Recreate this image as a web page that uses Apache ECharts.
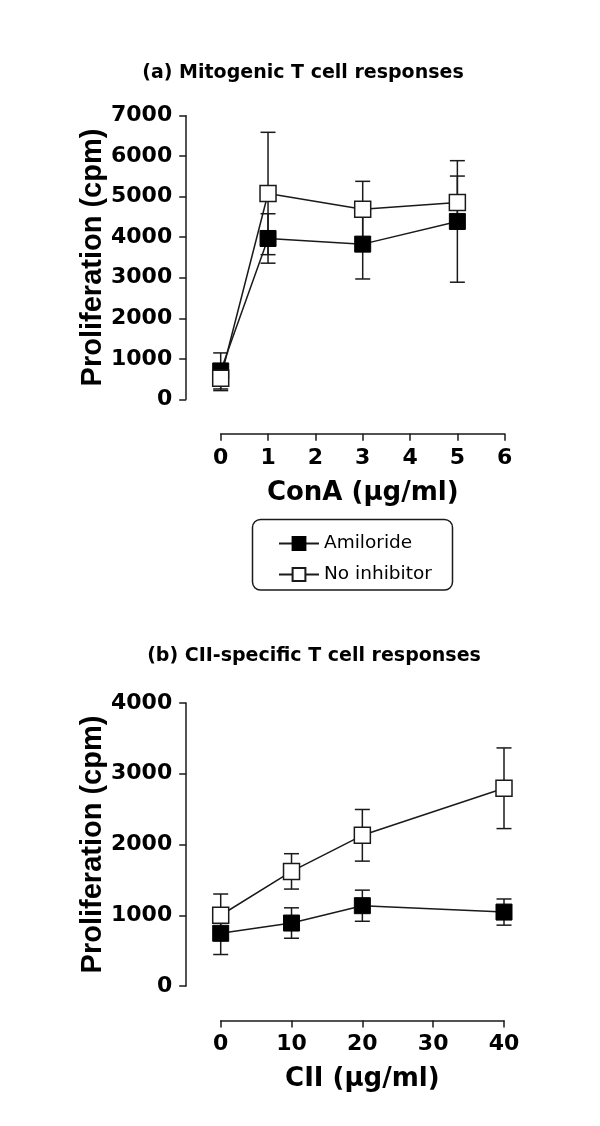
<!DOCTYPE html>
<html>
<head>
<meta charset="utf-8">
<script src="https://cdn.jsdelivr.net/npm/echarts@6/dist/echarts.min.js"></script>
<style>
  html, body { margin: 0; padding: 0; background: #fff; }
  #chart { width: 600px; height: 1126px; }
</style>
</head>
<body>
<div id="chart"></div>
<script>
// ---- Data ----
const seriesNames = ['Amiloride', 'No inhibitor'];

// Panel (a): ConA (µg/ml)
const conA = [0, 1, 3, 5];
const amilorideA = [700, 3970, 3830, 4390];
const amilorideAErr = [445, 610, 860, 1500];
const noInhibitorA = [520, 5080, 4690, 4860];
const noInhibitorAErr = [305, 1510, 690, 650];
const xTicksA = { min: 0, max: 6, interval: 1 };
const yTicksA = { min: 0, max: 7000, interval: 1000 };

// Panel (b): CII (µg/ml)
const cii = [0, 10, 20, 40];
const amilorideB = [745, 890, 1135, 1045];
const amilorideBErr = [300, 215, 220, 185];
const noInhibitorB = [1000, 1620, 2130, 2795];
const noInhibitorBErr = [300, 250, 365, 570];
const xTicksB = { min: 0, max: 40, interval: 10 };
const yTicksB = { min: 0, max: 4000, interval: 1000 };

const titles = ['(a) Mitogenic T cell responses', '(b) CII-specific T cell responses'];
const xNames = ['ConA (µg/ml)', 'CII (µg/ml)'];
const yName = 'Proliferation (cpm)';

// ---- Styling ----
const INK = '#1a1a1a';
const BOLD = 'DejaVu Sans';

function pairs(xs, ys) { return xs.map((x, i) => [x, ys[i]]); }
function errData(xs, ys, es) { return xs.map((x, i) => [x, ys[i] - es[i], ys[i] + es[i]]); }

function errRender(params, api) {
  const x = api.value(0), lo = api.value(1), hi = api.value(2);
  const pLo = api.coord([x, lo]);
  const pHi = api.coord([x, hi]);
  const w = 7.5;
  const st = { stroke: INK, lineWidth: 1.5 };
  return {
    type: 'group',
    children: [
      { type: 'line', shape: { x1: pHi[0], y1: pHi[1], x2: pLo[0], y2: pLo[1] }, style: st },
      { type: 'line', shape: { x1: pHi[0] - w, y1: pHi[1], x2: pHi[0] + w, y2: pHi[1] }, style: st },
      { type: 'line', shape: { x1: pLo[0] - w, y1: pLo[1], x2: pLo[0] + w, y2: pLo[1] }, style: st }
    ]
  };
}

function plain(v) { return String(v); }

function xAxisCfg(idx, t, name) {
  return {
    type: 'value', gridIndex: idx, min: t.min, max: t.max, interval: t.interval,
    offset: 34.5,
    name: name, nameLocation: 'middle', nameGap: 46,
    nameTextStyle: { fontFamily: BOLD, fontWeight: 'bold', fontSize: 26, color: '#000' },
    axisLine: { onZero: false, lineStyle: { color: INK, width: 1.5 } },
    axisTick: { length: 7, lineStyle: { color: INK, width: 1.5 } },
    axisLabel: { margin: 13, formatter: plain, fontFamily: BOLD, fontWeight: 'bold', fontSize: 22, color: '#000' },
    splitLine: { show: false }
  };
}
function yAxisCfg(idx, t) {
  return {
    type: 'value', gridIndex: idx, min: t.min, max: t.max, interval: t.interval,
    offset: 34.5,
    name: yName, nameLocation: 'middle', nameGap: 64,
    nameTextStyle: { fontFamily: 'Liberation Sans', fontWeight: 'bold', fontSize: 29, color: '#000' },
    axisLine: { show: true, onZero: false, lineStyle: { color: INK, width: 1.5 } },
    axisTick: { show: true, length: 7, lineStyle: { color: INK, width: 1.5 } },
    axisLabel: { margin: 14, formatter: plain, fontFamily: BOLD, fontWeight: 'bold', fontSize: 22, color: '#000' },
    splitLine: { show: false }
  };
}
function lineSeries(name, idx, data, filled) {
  return {
    name: name, type: 'line', xAxisIndex: idx, yAxisIndex: idx,
    data: data, symbol: 'rect', symbolSize: 16, z: 3,
    lineStyle: { color: INK, width: 1.5 },
    itemStyle: filled ? { color: '#000', borderColor: '#000', borderWidth: 1 }
                      : { color: '#fff', borderColor: INK, borderWidth: 1.5 },
    emphasis: { disabled: true }
  };
}
function errSeries(name, idx, data) {
  return {
    name: name, type: 'custom', xAxisIndex: idx, yAxisIndex: idx, z: 1,
    renderItem: errRender, encode: { x: 0, y: [1, 2] }, data: data, silent: true
  };
}

const chart = echarts.init(document.getElementById('chart'), null, { renderer: 'canvas' });
chart.setOption({
  animation: false,
  backgroundColor: '#fff',
  title: [
    { text: titles[0], left: 298, top: 59, textAlign: 'center',
      textStyle: { fontFamily: BOLD, fontWeight: 'bold', fontSize: 19, color: '#000' } },
    { text: titles[1], left: 309, top: 642, textAlign: 'center',
      textStyle: { fontFamily: BOLD, fontWeight: 'bold', fontSize: 19, color: '#000' } }
  ],
  legend: {
    data: seriesNames, orient: 'vertical', left: 278, top: 534, padding: 0,
    itemWidth: 40, itemHeight: 16, itemGap: 12,
    textStyle: { fontFamily: 'DejaVu Sans', fontSize: 18.5, color: '#000' },
    selectedMode: false
  },
  graphic: [
    { type: 'rect', shape: { x: 252.5, y: 519.5, width: 200, height: 70.5, r: 8 },
      style: { fill: 'none', stroke: INK, lineWidth: 1.5 }, z: -1 }
  ],
  grid: [
    { left: 220.7, right: 95.3, top: 115.7, height: 283.6 },
    { left: 220.7, right: 96, top: 703, height: 283 }
  ],
  xAxis: [xAxisCfg(0, xTicksA, xNames[0]), xAxisCfg(1, xTicksB, xNames[1])],
  yAxis: [yAxisCfg(0, yTicksA), yAxisCfg(1, yTicksB)],
  series: [
    errSeries('errA1', 0, errData(conA, amilorideA, amilorideAErr)),
    errSeries('errA2', 0, errData(conA, noInhibitorA, noInhibitorAErr)),
    lineSeries(seriesNames[0], 0, pairs(conA, amilorideA), true),
    lineSeries(seriesNames[1], 0, pairs(conA, noInhibitorA), false),
    errSeries('errB1', 1, errData(cii, amilorideB, amilorideBErr)),
    errSeries('errB2', 1, errData(cii, noInhibitorB, noInhibitorBErr)),
    lineSeries(seriesNames[0], 1, pairs(cii, amilorideB), true),
    lineSeries(seriesNames[1], 1, pairs(cii, noInhibitorB), false)
  ]
});
</script>
</body>
</html>
